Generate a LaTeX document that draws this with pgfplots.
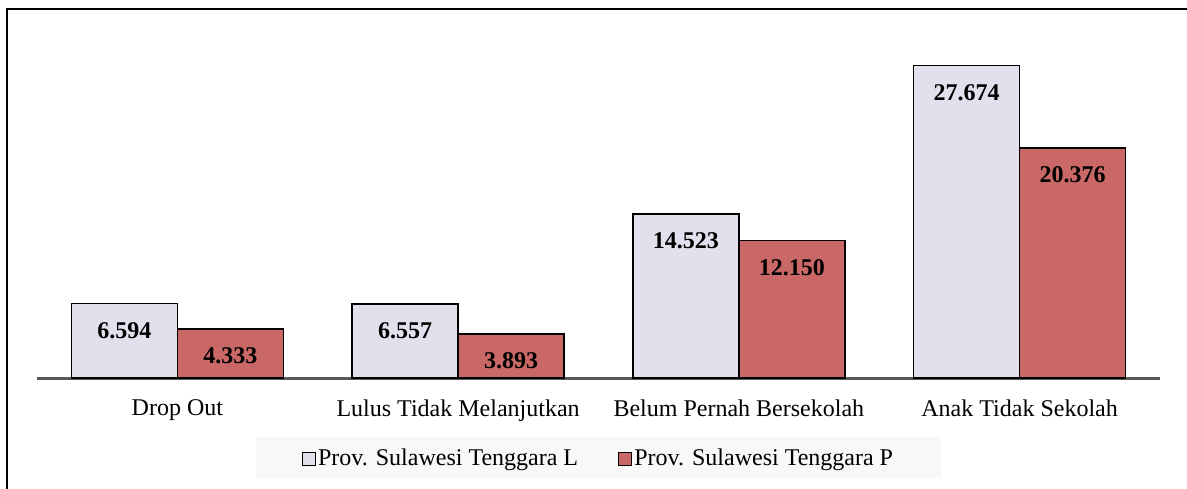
\documentclass[border=0pt]{standalone}
\usepackage{pgfplots}
\pgfplotsset{compat=1.18}
\usepackage{fontspec}
\setmainfont{Liberation Serif}
\definecolor{cL}{RGB}{228,223,236}
\definecolor{cP}{RGB}{201,104,102}
\definecolor{axisgray}{RGB}{89,89,89}
\definecolor{legbg}{RGB}{248,248,248}
\begin{document}
\begin{tikzpicture}[x=1pt,y=1pt]
\useasboundingbox (-37,-110) rectangle (1150,378);
\draw[line width=2pt] (-30,-130) -- (-30,369) -- (1160,369);
\begin{axis}[
  at={(0pt,0pt)}, anchor=south west,
  scale only axis, width=1123pt, height=339pt,
  xmin=-0.5, xmax=3.5, ymin=0, ymax=30,
  ybar=0pt, bar width=106pt,
  axis x line*=bottom, axis y line=none,
  x axis line style={draw=axisgray, line width=3pt, -},
  xtick={0,1,2,3},
  xticklabels={Drop Out, Lulus Tidak Melanjutkan, Belum Pernah Bersekolah, Anak Tidak Sekolah},
  major tick length=0pt,
  xticklabel style={font=\fontsize{24}{28}\selectfont, yshift=-18pt},
  point meta=explicit symbolic,
  nodes near coords,
  every node near coord/.append style={font=\bfseries\fontsize{24}{28}\selectfont, anchor=center, yshift=-27pt},
  legend columns=2,
  legend style={at={(0.5,-0.2345)}, anchor=center, fill=legbg, draw=none,
    font=\fontsize{24}{28}\selectfont, inner xsep=46pt, inner ysep=9pt,
    /tikz/every even column/.append style={column sep=38pt}},
]
\addplot[fill=cL, draw=black, line width=1.5pt,
  legend image code/.code={\draw[fill=cL,draw=black,line width=1.2pt] (0pt,-8pt) rectangle (13pt,5pt);}]
  coordinates {(0,6.594) [6.594] (1,6.557) [6.557] (2,14.523) [14.523] (3,27.674) [27.674]};
\addplot[fill=cP, draw=black, line width=1.5pt,
  legend image code/.code={\draw[fill=cP,draw=black,line width=1.2pt] (0pt,-8pt) rectangle (13pt,5pt);}]
  coordinates {(0,4.333) [4.333] (1,3.893) [3.893] (2,12.150) [12.150] (3,20.376) [20.376]};
\legend{Prov. Sulawesi Tenggara L, Prov. Sulawesi Tenggara P}
\end{axis}
\end{tikzpicture}
\end{document}
